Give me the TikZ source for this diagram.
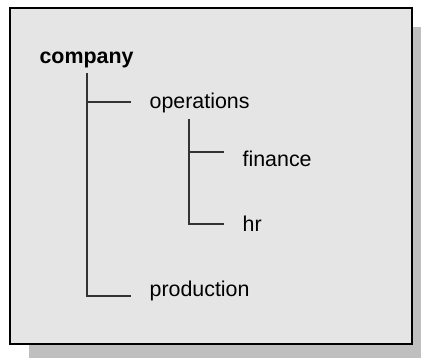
\documentclass[tikz,border=0pt]{standalone}
\usepackage{fontspec}
\setmainfont{Liberation Sans}
\usepackage{tikz}

\begin{document}
\begin{tikzpicture}[x=0.5pt, y=-0.5pt, line width=0.6pt,
    lbl/.style={inner sep=0pt, anchor=base west, font=\fontsize{10.7}{12}\selectfont},
    ast/.style={color=black!80}]
    % Rahmen.
    \useasboundingbox (0,0) rectangle (421,358);
    \fill[color=black!25] (29,27) rectangle (421,358);
    \draw[color=black, fill=black!10] (10,8) rectangle (412,344);

    % Beschriftung.
    \node[lbl] (company)    at (39,63)   {\bfseries company};
    \node[lbl] (operations) at (149,108) {operations};
    \node[lbl] (finance)    at (242,166) {finance};
    \node[lbl] (hr)         at (242,231) {hr};
    \node[lbl] (production) at (149,296) {production};

    % Linien.
    \coordinate (stemA) at (87,73);
    \coordinate (stemB) at (189,119);
    \coordinate (toOps)  at (131,102);
    \coordinate (toProd) at (131,296);
    \coordinate (toFin)  at (224,152);
    \coordinate (toHr)   at (224,224);

    \draw[ast] (stemA) |- (toProd);
    \draw[ast] (stemA |- toOps) -- (toOps);
    \draw[ast] (stemB) |- (toHr);
    \draw[ast] (stemB |- toFin) -- (toFin);
\end{tikzpicture}
\end{document}
